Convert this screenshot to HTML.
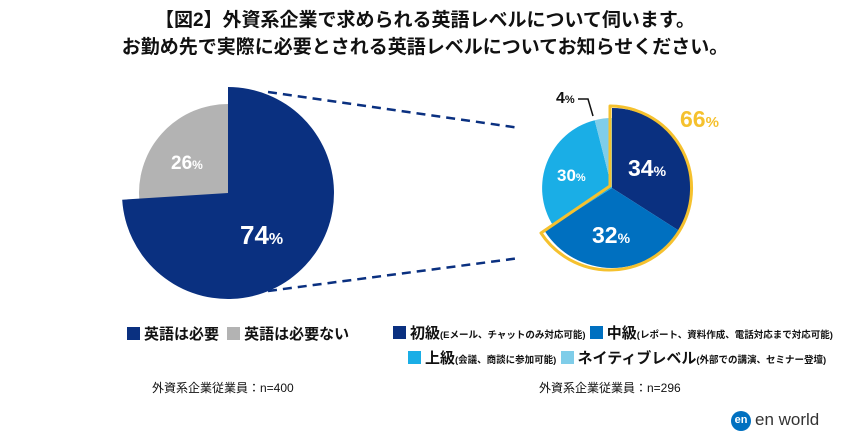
<!DOCTYPE html><html><head><meta charset="utf-8"><style>
body{margin:0;width:850px;height:437px;background:#fff;overflow:hidden;font-family:"Liberation Sans","Noto Sans CJK JP",sans-serif;position:relative}
.t{position:absolute;left:0;width:850px;text-align:center;font-weight:bold;font-size:19px;color:#111}
.a{position:absolute;white-space:nowrap;color:#111}
.sq{display:inline-block;width:13px;height:13px;vertical-align:-1px;margin-right:4px}
.b{font-weight:bold;font-size:15px}
.s{font-size:9.5px;font-weight:bold}
</style></head><body>
<div class="t" style="top:5px">【図2】外資系企業で求められる英語レベルについて伺います。</div>
<div class="t" style="top:32px">お勤め先で実際に必要とされる英語レベルについてお知らせください。</div>
<svg width="850" height="437" style="position:absolute;left:0;top:0">
<line x1="268" y1="92" x2="520" y2="128" stroke="#0a3080" stroke-width="2.5" stroke-dasharray="9,6"/>
<line x1="268" y1="291" x2="520" y2="258" stroke="#0a3080" stroke-width="2.5" stroke-dasharray="9,6"/>
<circle cx="228" cy="193" r="89" fill="#b3b3b3"/>
<path d="M228,193 L228,87 A106,106 0 1 1 122.2,199.7 Z" fill="#0a3080"/>
<g transform="translate(612,188)">
<path d="M0,0 L0,-80 A80,80 0 0 1 67.5,43 Z" fill="#0a3080"/>
<path d="M0,0 L67.5,43 A80,80 0 0 1 -67.5,42.8 Z" fill="#0070c0"/>
<path d="M0,0 L-59,37.5 A70,70 0 0 1 -17.3,-67.8 Z" fill="#1aaee6"/>
<path d="M0,0 L-17.3,-67.8 A70,70 0 0 1 0,-70 Z" fill="#7fcde9"/>
<path d="M-2,-2 L-2,-82 A82,82 0 1 1 -71,45 Z" fill="none" stroke="#f5c12e" stroke-width="3" stroke-linejoin="round"/>
</g>
<polyline points="578,99 588,99 593,116" fill="none" stroke="#111" stroke-width="1.5"/>
</svg>
<div class="a" style="left:171px;top:153px;color:#fff;font-weight:bold;font-size:19px">26<span style="font-size:12px">%</span></div>
<div class="a" style="left:240px;top:220px;color:#fff;font-weight:bold;font-size:26px">74<span style="font-size:16px">%</span></div>
<div class="a" style="left:628px;top:155px;color:#fff;font-weight:bold;font-size:23px">34<span style="font-size:14px">%</span></div>
<div class="a" style="left:592px;top:222px;color:#fff;font-weight:bold;font-size:23px">32<span style="font-size:14px">%</span></div>
<div class="a" style="left:557px;top:166px;color:#fff;font-weight:bold;font-size:17px">30<span style="font-size:11px">%</span></div>
<div class="a" style="left:556px;top:90px;font-weight:bold;font-size:16px">4<span style="font-size:11px">%</span></div>
<div class="a" style="left:680px;top:106px;color:#f5c12e;font-weight:bold;font-size:23px">66<span style="font-size:15px">%</span></div>
<div class="a b" style="left:127px;top:323px"><span class="sq" style="background:#0a3080"></span>英語は必要 <span class="sq" style="background:#b3b3b3;margin-left:4px"></span>英語は必要ない</div>
<div class="a b" style="left:393px;top:322px"><span class="sq" style="background:#0a3080"></span>初級<span class="s">(Eメール、チャットのみ対応可能)</span> <span class="sq" style="background:#0070c0"></span>中級<span class="s">(レポート、資料作成、電話対応まで対応可能)</span></div>
<div class="a b" style="left:408px;top:347px"><span class="sq" style="background:#1aaee6"></span>上級<span class="s">(会議、商談に参加可能)</span> <span class="sq" style="background:#7fcde9"></span>ネイティブレベル<span class="s">(外部での講演、セミナー登壇)</span></div>
<div class="a" style="left:152px;top:379px;font-size:12px">外資系企業従業員：n=400</div>
<div class="a" style="left:539px;top:379px;font-size:12px">外資系企業従業員：n=296</div>
<div class="a" style="left:731px;top:411px;width:20px;height:20px;border-radius:50%;background:#0070c0;color:#fff;font-size:11px;font-weight:bold;text-align:center;line-height:19px">en</div>
<div class="a" style="left:755px;top:410px;font-size:17px;color:#333">en world</div>
</body></html>
